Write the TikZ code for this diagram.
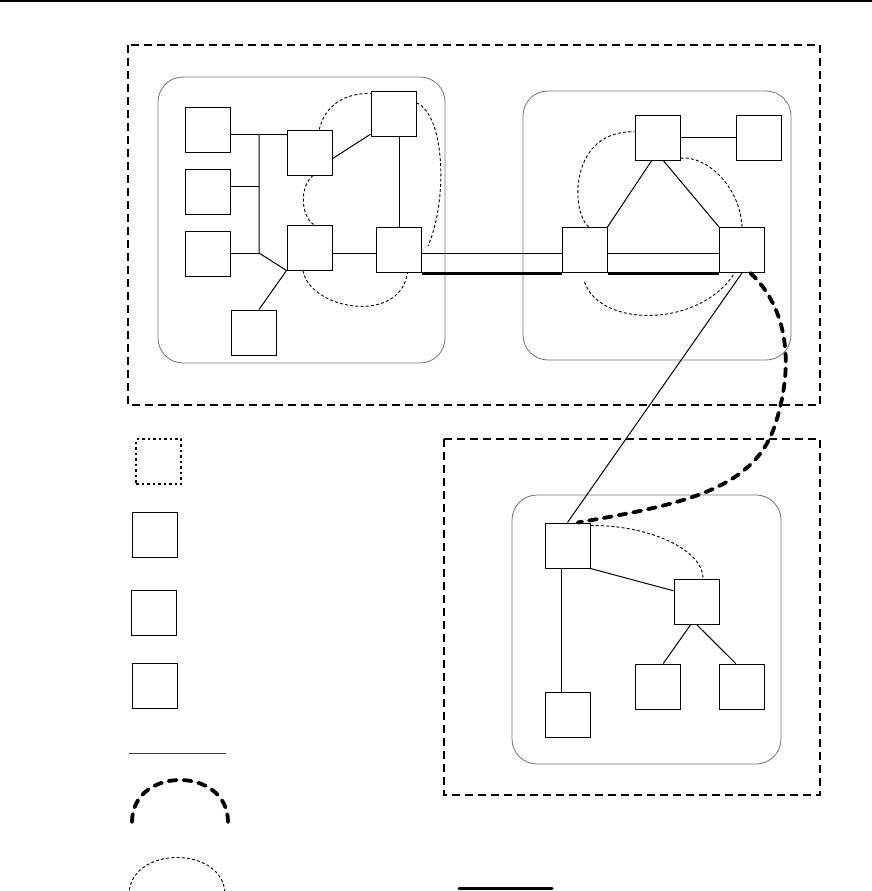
\documentclass[tikz,border=0pt]{standalone}
\usetikzlibrary{calc}
\begin{document}
\begin{tikzpicture}[x=1pt,y=-1pt,
  nd/.style={draw,fill=white,line width=1pt,minimum size=45pt,inner sep=0pt},
  lnk/.style={line width=1pt},
  trunk/.style={line width=3pt},
  region/.style={draw=black,line width=1.3pt,dash pattern=on 8pt off 5pt},
  cluster/.style={draw=black!55,line width=0.8pt,rounded corners=25pt},
  soft/.style={line width=0.9pt,dash pattern=on 3pt off 2.2pt},
  heavy/.style={line width=3.8pt,dash pattern=on 8pt off 7pt,line cap=round}]
\useasboundingbox (0,0) rectangle (872,891);
% top rule
\draw[line width=2pt] (0,1) -- (872,1);
% regions and clusters
\draw[region] (128,45) rectangle (820,405);
\draw[region] (444,439) rectangle (820,795);
\draw[cluster] (158,77) rectangle (445,363);
\draw[cluster] (523,91) rectangle (791,360);
\draw[cluster] (512,495) rectangle (781,764);
% nodes left cluster
\node[nd] (A1) at (208,130) {};
\node[nd] (A2) at (208,191.5) {};
\node[nd] (A3) at (208,253.5) {};
\node[nd] (A4) at (253.5,332.5) {};
\node[nd] (B1) at (309.5,152.5) {};
\node[nd] (B2) at (309.5,247.5) {};
\node[nd] (C1) at (393.5,113.5) {};
\node[nd] (C2) at (399,250) {};
% nodes right cluster
\node[nd] (D1) at (584.5,250) {};
\node[nd] (D2) at (657.5,137.5) {};
\node[nd] (D3) at (758.5,137.5) {};
\node[nd] (D4) at (742,250) {};
% nodes bottom cluster
\node[nd] (E1) at (567.5,545.5) {};
\node[nd] (E2) at (696.5,601.5) {};
\node[nd] (E3) at (657.5,686.5) {};
\node[nd] (E4) at (741.5,686.5) {};
\node[nd] (E5) at (567.5,714.5) {};
% legend nodes
\node[nd,line width=1.2pt,dash pattern=on 2.5pt off 3pt] (L1) at (158.5,461.5) {};
\node[nd] (L2) at (154.5,534.5) {};
\node[nd] (L3) at (153.5,612.5) {};
\node[nd] (L4) at (154.5,685.5) {};
% bus
\coordinate (bt) at (259,134);
\coordinate (bm) at (259,186);
\coordinate (bb) at (259,253);
\draw[lnk] (A1.east |- bt) -- (B1.west |- bt);
\draw[lnk] (A2.east |- bm) -- (bm);
\draw[lnk] (A3.east |- bb) -- (bb);
\draw[lnk] (bt) -- (bb) -- (B2.south west);
\draw[lnk] (A4.north -| bb) -- (B2.south west);
\draw[lnk] (B1.-15) -- (C1.222);
\draw[lnk] (C2.north |- C1.south) -- (C2.north);
\draw[lnk] (B2.east |- C2.188) -- (C2.188);
% inter-cluster
\draw[lnk] (C2.-8) -- (D1.188);
\draw[trunk] (C2.south east) -- (D1.south west);
\draw[lnk] (D1.-8) -- (D4.188);
\draw[trunk] (D1.south east) -- (D4.south west);
\draw[lnk] (D2.east) -- (D3.west);
\draw[lnk] (D2.256) -- (D1.north east);
\draw[lnk] (D2.284) -- (D4.north west);
\draw[lnk] (D4.south) -- (E1.north);
\draw[heavy] (D4.-70) .. controls (790,310) and (794,370) .. (774,428)
  .. controls (752,490) and (680,505) .. (E1.66);
% bottom cluster links
\draw[lnk] (E1.256) -- (E5.104);
\draw[lnk] (E1.south east) -- (E2.155);
\draw[lnk] (E2.256) -- (E3.76);
\draw[lnk] (E2.south) -- (E4.104);
% soft curves
\draw[soft] (B1.67) .. controls (325,105) and (345,93) .. (C1.139);
\draw[soft] (C1.25) .. controls (445,115) and (448,200) .. ($(C2.east)+(6,-4)$);
\draw[soft] (B1.279) .. controls (300,185) and (300,215) .. (B2.80);
\draw[soft] (B2.254) .. controls (310,310) and (400,325) .. (C2.-70);
\draw[soft] (D1.80) .. controls (570,210) and (570,130) .. (D2.166);
\draw[soft] (D2.-42) .. controls (705,155) and (740,185) .. (D4.north);
\draw[soft] ($(D1.south)+(0,9)$) .. controls (600,328) and (700,328) .. (D4.252);
\draw[soft] (E1.41) .. controls (650,525) and (703,550) .. (E2.74);
% legend lines
\coordinate (ga) at (129,753);
\coordinate (gb) at (226,753);
\draw[draw=black!75,line width=1pt] (ga) -- (gb);
\coordinate (ha) at (132,822);
\coordinate (hb) at (228,822);
\draw[heavy] (ha) .. controls (132,766) and (228,766) .. (hb);
\coordinate (sa) at (129,895);
\coordinate (sb) at (225,895);
\draw[soft] (sa) .. controls (129,845) and (225,845) .. (sb);
\coordinate (ta) at (459,888);
\coordinate (tb) at (552,888);
\draw[line width=3pt,line cap=round] (ta) -- (tb);
\end{tikzpicture}
\end{document}
